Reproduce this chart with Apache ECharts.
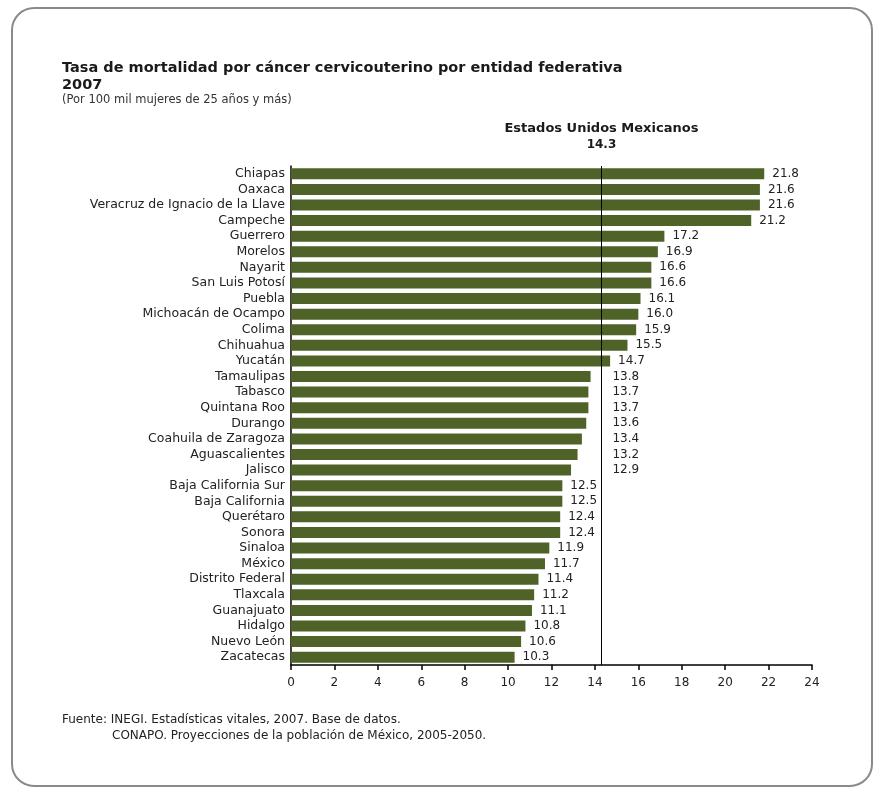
<!DOCTYPE html>
<html>
<head>
<meta charset="utf-8">
<script src="https://cdn.jsdelivr.net/npm/echarts@6/dist/echarts.min.js"></script>
<style>html,body{margin:0;padding:0;background:#fff}#c{width:881px;height:792px}</style>
</head>
<body>
<div id="c"></div>
<script>
const categories = ["Chiapas","Oaxaca","Veracruz de Ignacio de la Llave","Campeche","Guerrero","Morelos","Nayarit","San Luis Potosí","Puebla","Michoacán de Ocampo","Colima","Chihuahua","Yucatán","Tamaulipas","Tabasco","Quintana Roo","Durango","Coahuila de Zaragoza","Aguascalientes","Jalisco","Baja California Sur","Baja California","Querétaro","Sonora","Sinaloa","México","Distrito Federal","Tlaxcala","Guanajuato","Hidalgo","Nuevo León","Zacatecas"];
const values = [21.8,21.6,21.6,21.2,17.2,16.9,16.6,16.6,16.1,16.0,15.9,15.5,14.7,13.8,13.7,13.7,13.6,13.4,13.2,12.9,12.5,12.5,12.4,12.4,11.9,11.7,11.4,11.2,11.1,10.8,10.6,10.3];
const nationalName = "Estados Unidos Mexicanos";
const nationalValue = 14.3;
const xTicks = [0,2,4,6,8,10,12,14,16,18,20,22,24];

const chart = echarts.init(document.getElementById('c'), null, {renderer:'canvas'});
const font = 'DejaVu Sans, Verdana, sans-serif';
const option = {
  animation:false,
  backgroundColor:'#fff',
  title:[
    {text:'Tasa de mortalidad por cáncer cervicouterino por entidad federativa\n2007', left:62, top:60, padding:0,
     textStyle:{fontFamily:font,fontSize:14.5,fontWeight:'bold',color:'#1a1a1a',lineHeight:17}},
    {text:'(Por 100 mil mujeres de 25 años y más)', left:62, top:94, padding:0,
     textStyle:{fontFamily:font,fontSize:11.5,fontWeight:'normal',color:'#333'}},
    {text:'Fuente: INEGI. Estadísticas vitales, 2007. Base de datos.', left:62, top:714, padding:0,
     textStyle:{fontFamily:font,fontSize:12,fontWeight:'normal',color:'#222'}},
    {text:'CONAPO. Proyecciones de la población de México, 2005-2050.', left:112, top:730, padding:0,
     textStyle:{fontFamily:font,fontSize:12,fontWeight:'normal',color:'#222'}}
  ],
  graphic:[{type:'rect', shape:{x:12,y:8,width:860,height:778,r:22}, style:{fill:'none',stroke:'#8a8a8a',lineWidth:2}}],
  grid:{left:291, right:69, top:166, height:499},
  xAxis:{type:'value', min:0, max:24, interval:2,
    axisLine:{show:true,lineStyle:{color:'#000',width:1.5}},
    axisTick:{show:true,length:5,lineStyle:{color:'#000',width:1.5}},
    splitLine:{show:false},
    axisLabel:{fontFamily:font,fontSize:12,color:'#222',margin:12,
      formatter:function(v){return xTicks.indexOf(v)>=0?String(v):'';}}
  },
  yAxis:{type:'category', data:categories, inverse:true,
    axisLine:{show:true,lineStyle:{color:'#000',width:1.5}},
    axisTick:{show:false},
    axisLabel:{interval:0,fontFamily:font,fontSize:12.5,color:'#222',margin:6}
  },
  series:[{
    type:'bar', data:values, barWidth:11,
    itemStyle:{color:'#4f6228'},
    label:{show:true,position:'right',distance:8,fontFamily:font,fontSize:12,color:'#222',
      formatter:function(p){return p.value.toFixed(1);}},
    markLine:{silent:true, symbol:'none',
      lineStyle:{color:'#000',width:1,type:'solid'},
      label:{show:true,position:'start',distance:13,fontFamily:font,
        formatter:function(){return '{n|'+nationalName+'}\n{v|'+nationalValue.toFixed(1)+'}';},
        rich:{n:{fontFamily:font,fontSize:13,fontWeight:'bold',color:'#1a1a1a',lineHeight:16,align:'center'},
              v:{fontFamily:font,fontSize:12,fontWeight:'bold',color:'#1a1a1a',lineHeight:16,align:'center'}}},
      data:[{xAxis:nationalValue}]
    }
  }]
};
chart.setOption(option);
// place labels of bars that end just short of the national line to the right of it
const pxN = chart.convertToPixel({xAxisIndex:0}, nationalValue);
const newData = values.map(function(v){
  if (v < nationalValue && v > 12.6) {
    const pxV = chart.convertToPixel({xAxisIndex:0}, v);
    return {value:v, label:{offset:[pxN - pxV + 3, 0]}};
  }
  return v;
});
chart.setOption({series:[{data:newData}]});
</script>
</body>
</html>
